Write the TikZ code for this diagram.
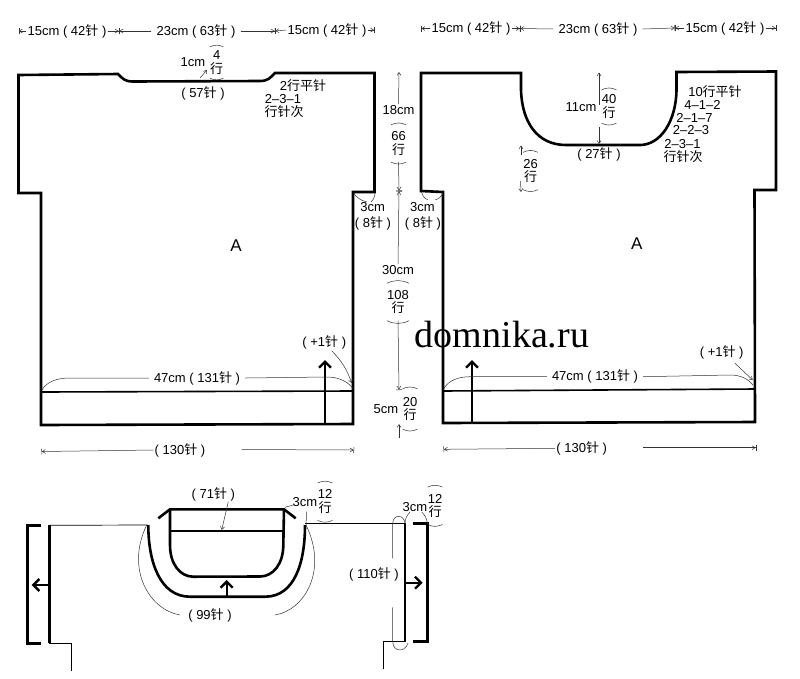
\documentclass[tikz,border=0pt]{standalone}
\usepackage{fontspec}
\setmainfont{Liberation Sans}
\newfontfamily\cjk{Noto Sans CJK SC}
\newfontfamily\wmfont{Liberation Serif}
\usetikzlibrary{arrows.meta}
\newcommand{\zhenC}{{\cjk 针}}
\newcommand{\hangC}{{\cjk 行}}
\newcommand{\stackarcs}[1]{%
  \draw [thinline] (#1.north west) to[bend left=25] (#1.north east);
  \draw [thinline] (#1.south west) to[bend right=25] (#1.south east);}
\tikzset{
  lbl/.style={font=\fontsize{13}{13.5}\selectfont, inner sep=1pt},
  stacknum/.style={lbl, align=center, inner xsep=0pt, minimum width=13pt, minimum height=37pt},
  thickline/.style={black, line width=2.6pt, line join=miter},
  hemline/.style={black, line width=1.6pt},
  thinline/.style={black!80, line width=0.5pt},
  tipthin/.style={thinline, -{Straight Barb[length=3pt,width=4pt]}},
  barend/.style={thinline, -{Straight Barb[length=3pt,width=4pt] Bar[width=6pt]}},
  thickarrow/.style={black, line width=2.4pt, -{Straight Barb[length=6pt,width=12pt]}},
}
\begin{document}
\begin{tikzpicture}[x=1pt,y=1pt]
  \useasboundingbox (0,0) rectangle (800,-678);
  % front piece
  \draw [thickline] (18.5,-75) -- (118,-74) .. controls (123,-79) and (125,-81.5) .. (133,-81.5)
    -- (260,-81) .. controls (268,-81) and (270,-78) .. (275,-73) -- (374.5,-73) -- (374.5,-192)
    -- (353,-192) -- (353,-424) -- (41,-425) -- (41,-193) -- (18.5,-193) -- cycle;
  \draw [hemline] (41,-392) -- (353,-391);
  \draw [thickarrow] (325,-423) -- (325,-360);
  % back piece
  \draw [thickline] (421,-73) -- (521,-73) -- (521,-90) .. controls (522,-122) and (537,-145) .. (566,-145)
    -- (640,-145) .. controls (660,-145) and (676,-122) .. (676.5,-90) -- (676.5,-72) -- (776,-71.5)
    -- (776,-190) -- (754.5,-190) -- (755,-422) -- (443,-423) -- (443,-192) -- (421,-191) -- cycle;
  \draw [hemline] (443,-391) -- (755,-389);
  \draw [thickarrow] (472,-423) -- (472,-360);
  % top widths, front
  \coordinate (jl0) at (18.5,-31);
  \coordinate (jl1) at (119,-31);
  \coordinate (jl2) at (275,-31);
  \coordinate (jl3) at (374.5,-30);
  \node [lbl] (lw15a) at (67,-31) {15cm ( 42\zhenC\ )};
  \node [lbl, inner xsep=5pt] (lw23) at (196,-31) {23cm ( 63\zhenC\ )};
  \node [lbl] (lw15b) at (327,-30) {15cm ( 42\zhenC\ )};
  \draw [barend] (lw15a.west) -- (jl0);
  \draw [barend] (lw15a.east) -- (jl1);
  \draw [barend] (lw23.west) -- (jl1);
  \draw [barend] (lw23.east) -- (jl2);
  \draw [barend] (lw15b.west) -- (jl2);
  \draw [barend] (lw15b.east) -- (jl3);
  % top widths, back
  \coordinate (jr0) at (421,-28.5);
  \coordinate (jr1) at (520,-28.5);
  \coordinate (jr2) at (675,-28);
  \coordinate (jr3) at (776,-28);
  \node [lbl] (rw15a) at (471,-28.5) {15cm ( 42\zhenC\ )};
  \node [lbl, inner xsep=5pt] (rw23) at (598,-29) {23cm ( 63\zhenC\ )};
  \node [lbl] (rw15b) at (725,-28) {15cm ( 42\zhenC\ )};
  \draw [barend] (rw15a.west) -- (jr0);
  \draw [barend] (rw15a.east) -- (jr1);
  \draw [barend] (rw23.west) -- (jr1);
  \draw [barend] (rw23.east) -- (jr2);
  \draw [barend] (rw15b.west) -- (jr2);
  \draw [barend] (rw15b.east) -- (jr3);
  % front neck notes
  \node [lbl] (ln1cm) at (193,-62.5) {1cm};
  \node [stacknum, minimum height=31pt] (ln4) at (216.7,-62.5) {4\\\hangC};
  \stackarcs{ln4}
  \coordinate (lnt) at (200,-78);
  \coordinate (lnh) at (207,-70);
  \draw [tipthin] (lnt) -- (lnh);
  \node [lbl] (ln57) at (203,-93) {( 57\zhenC\ )};
  \node [lbl] (lsa) at (303,-86) {2\hangC{\cjk 平}\zhenC};
  \node [lbl] (lsb) at (283,-99) {2--3--1};
  \node [lbl] (lsc) at (284,-112) {{\cjk 行针次}};
  % back neck notes
  \coordinate (rnt) at (599,-72.5);
  \coordinate (rnb) at (599,-144);
  \node [lbl] (rn11) at (581,-107.5) {11cm};
  \node [stacknum, minimum height=33pt] (rn40) at (609,-106.5) {40\\\hangC};
  \stackarcs{rn40}
  \draw [tipthin] (599,-105) -- (rnt);
  \draw [tipthin] (599,-127) -- (rnb);
  \node [lbl] (rn27) at (599,-154) {( 27\zhenC\ )};
  \node [lbl] (rsa) at (715,-91.5) {10\hangC{\cjk 平}\zhenC};
  \node [lbl] (rsb) at (702.5,-105) {4--1--2};
  \node [lbl] (rsc) at (694.5,-117.5) {2--1--7};
  \node [lbl] (rsd) at (691,-130.5) {2--2--3};
  \node [lbl] (rse) at (682.5,-144) {2--3--1};
  \node [lbl] (rsf) at (683,-157) {{\cjk 行针次}};
  \node [stacknum] (rn26) at (530.5,-171) {26\\\hangC};
  \stackarcs{rn26}
  \coordinate (rat) at (521,-145.5);
  \coordinate (rab) at (521,-192);
  \draw [tipthin] (521,-155) -- (rat);
  \draw [tipthin] (520.5,-181) -- (rab);
  % centre heights
  \coordinate (cj0) at (399,-72);
  \coordinate (cj1) at (399,-191);
  \coordinate (cj2) at (399,-390);
  \coordinate (cj3) at (399,-424);
  \node [lbl] (ch18) at (398.5,-110) {18cm};
  \node [stacknum] (ch66) at (398.5,-143.5) {66\\\hangC};
  \stackarcs{ch66}
  \node [lbl] (ch30) at (398,-270) {30cm};
  \node [stacknum] (ch108) at (398,-302) {108\\\hangC};
  \stackarcs{ch108}
  \node [lbl] (ch5) at (386,-409) {5cm};
  \node [stacknum, minimum height=40pt] (ch20) at (410,-409) {20\\\hangC};
  \stackarcs{ch20}
  \draw [tipthin] (ch18.north) -- (cj0);
  \draw [barend] (ch66.south) -- (cj1);
  \draw [barend] (ch30.north) -- (cj1);
  \draw [barend] (ch108.south) -- (cj2);
  \draw [tipthin] (399,-438) -- (cj3);
  % sleeve notes
  \node [lbl] (ls3) at (372.7,-207) {3cm};
  \node [lbl] (ls8) at (373,-223) {( 8\zhenC\ )};
  \draw [thinline] (353.5,-193) to[bend right=20] (367,-202);
  \draw [thinline] (375,-193) to[bend left=20] (371,-202);
  \node [lbl] (rs3) at (422.3,-207) {3cm};
  \node [lbl] (rs8) at (423,-223) {( 8\zhenC\ )};
  \draw [thinline] (421.5,-192) to[bend right=25] (428,-200);
  \draw [thinline] (443,-193) to[bend left=25] (435,-200);
  \node [font=\fontsize{17}{18}\selectfont, inner sep=0pt] (la) at (236,-246) {A};
  \node [font=\fontsize{17}{18}\selectfont, inner sep=0pt] (ra) at (636.7,-244) {A};
  \node [font=\wmfont\fontsize{38}{40}\selectfont, inner sep=0pt] (mark) at (502,-335) {domnika.ru};
  % lower notes, front
  \node [lbl] (lp1) at (324.3,-342) {( +1\zhenC\ )};
  \coordinate (lp1e) at (351.7,-383);
  \draw [tipthin] (331.7,-350.7) to[bend left=12] (lp1e);
  \node [lbl, inner xsep=5pt] (l47) at (197,-378) {47cm ( 131\zhenC\ )};
  \draw [thinline] (41.5,-390.5) .. controls (47,-381) and (58,-378) .. (70,-378) -- (l47.west);
  \draw [thinline] (l47.east) -- (326.7,-377) .. controls (338,-377) and (347,-381) .. (352.7,-388);
  \node [lbl] (l130) at (180,-450) {( 130\zhenC\ )};
  \coordinate (l130a) at (41.5,-451.5);
  \coordinate (l130b) at (354,-450);
  \coordinate (l130c) at (241.5,-449.5);
  \draw [barend] (l130.west) -- (l130a);
  \draw [barend] (l130c) -- (l130b);
  % lower notes, back
  \node [lbl] (rp1) at (721.7,-352) {( +1\zhenC\ )};
  \coordinate (rp1e) at (752.7,-380);
  \draw [tipthin] (735,-363.3) -- (rp1e);
  \node [lbl, inner xsep=5pt] (r47) at (595,-376.7) {47cm ( 131\zhenC\ )};
  \draw [thinline] (444,-388.3) .. controls (449,-380) and (459,-376.7) .. (470,-376.7) -- (r47.west);
  \draw [thinline] (r47.east) -- (730,-375) .. controls (741,-375) and (748,-379) .. (753,-385);
  \node [lbl] (r130) at (581.7,-448.3) {( 130\zhenC\ )};
  \coordinate (r130a) at (443.5,-449.3);
  \coordinate (r130b) at (756,-447.7);
  \coordinate (r130c) at (643,-447.7);
  \draw [barend] (r130.west) -- (r130a);
  \draw [barend] (r130c) -- (r130b);
  % yoke piece
  \draw [thinline, black, line width=0.7pt] (49.3,-525.3) -- (147.7,-525);
  \draw [thinline, black, line width=0.7pt] (49.3,-643.3) -- (71.7,-643.3) -- (71.7,-670.7);
  \draw [thinline, black, line width=0.7pt] (305,-523.3) -- (405,-523.3);
  \draw [thinline, black, line width=0.7pt] (405,-641.7) -- (383.3,-641.7) -- (383.3,-669.3);
  \draw [thickline] (49.3,-525.3) -- (49.3,-643.3);
  \draw [thickline] (405,-523.3) -- (405,-641.7);
  \draw [thickline] (41,-525.3) -- (27.3,-525.3) -- (27.3,-643.3) -- (41,-643.3);
  \draw [thickline] (413.3,-523.3) -- (427.3,-523.3) -- (427.3,-641.7) -- (413.3,-641.7);
  \draw [thickarrow] (49.3,-585) -- (31.7,-585);
  \draw [thickarrow] (405,-582.7) -- (422.7,-582.7);
  \draw [thickline] (148.3,-525) .. controls (148.3,-562) and (160,-596.7) .. (190,-596.7) -- (265,-596.7)
    .. controls (295,-596.7) and (305,-562) .. (305,-525);
  \draw [thickline] (158.3,-518.3) -- (170,-509.3) -- (284,-509.3) -- (295.7,-518.3);
  \draw [thickline] (170,-509.3) -- (170,-545) .. controls (170,-564) and (180,-576.7) .. (193.3,-576.7)
    -- (260,-576.5) .. controls (273,-576.5) and (283.3,-564) .. (283.3,-545) -- (284,-509.3);
  \draw [hemline, line width=1.8pt] (170,-531) -- (283.3,-531);
  \draw [thickarrow] (226.7,-596.7) -- (226.7,-580);
  \node [lbl] (y71) at (213.3,-494.3) {( 71\zhenC\ )};
  \coordinate (y71e) at (221.7,-530);
  \draw [tipthin] (228.3,-501.7) -- (y71e);
  \node [lbl] (y3a) at (305,-502.3) {3cm};
  \node [stacknum] (y12a) at (325,-501.7) {12\\\hangC};
  \stackarcs{y12a}
  \draw [thinline] (285,-507.3) -- (293.3,-505);
  \draw [thinline] (306.7,-511.7) -- (306,-525);
  \node [lbl] (y99) at (210,-615.7) {( 99\zhenC\ )};
  \draw [thinline] (180,-615) .. controls (150,-610) and (125,-570) .. (146.7,-525);
  \draw [thinline] (275,-615) .. controls (305,-610) and (328,-570) .. (306,-525);
  \node [lbl] (y110) at (374,-574.3) {( 110\zhenC\ )};
  \draw [thinline] (392.7,-558.3) -- (392.7,-523.3) .. controls (393,-514) and (404,-514) .. (405,-523.3);
  \draw [thinline] (392.7,-607.3) -- (392.7,-641.7) .. controls (393,-652) and (405,-653) .. (408,-643);
  \node [lbl] (y3b) at (415,-506.7) {3cm};
  \node [stacknum] (y12b) at (435,-505.8) {12\\\hangC};
  \stackarcs{y12b}
  \draw [thinline] (405,-523.3) to[bend left=20] (410,-512);
  \draw [thinline] (421.7,-512) to[bend left=20] (427.3,-523.3);
\end{tikzpicture}
\end{document}
